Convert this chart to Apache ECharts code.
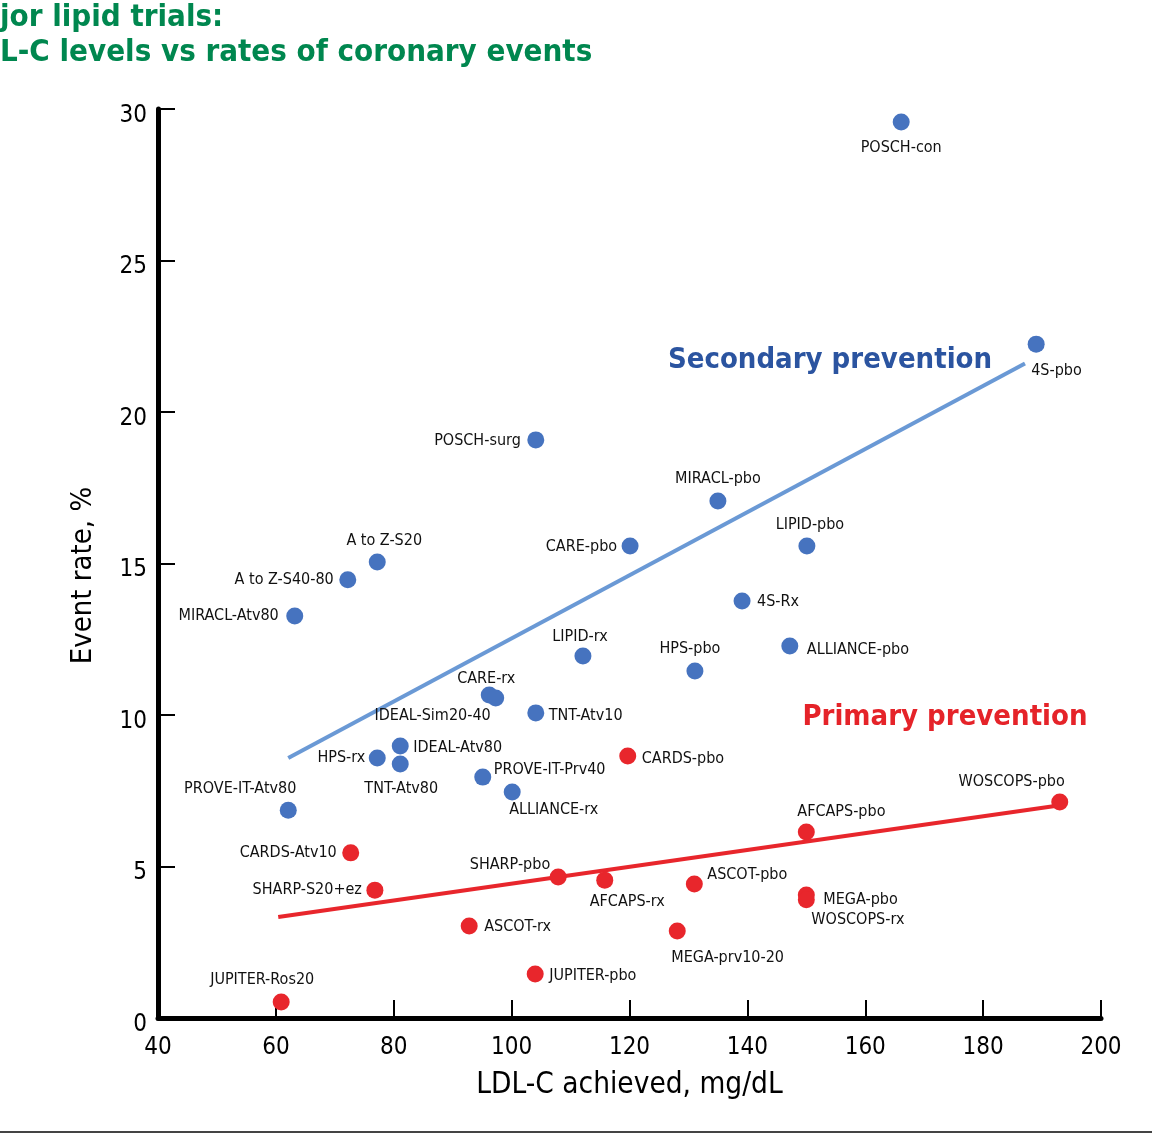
<!DOCTYPE html>
<html>
<head>
<meta charset="utf-8">
<script src="https://cdn.jsdelivr.net/npm/echarts@6/dist/echarts.min.js"></script>
<style>
  html, body { margin: 0; padding: 0; background: #fff; }
  #chart { width: 1152px; height: 1134px; }
</style>
</head>
<body>
<div id="chart"></div>
<script>
// secondary prevention trials (blue)
const secNames = ['POSCH-con', '4S-pbo', 'POSCH-surg', 'MIRACL-pbo', 'CARE-pbo', 'LIPID-pbo',
  'A to Z-S20', 'A to Z-S40-80', 'MIRACL-Atv80', '4S-Rx', 'ALLIANCE-pbo', 'LIPID-rx', 'HPS-pbo',
  'CARE-rx', 'IDEAL-Sim20-40', 'TNT-Atv10', 'IDEAL-Atv80', 'HPS-rx', 'TNT-Atv80',
  'PROVE-IT-Prv40', 'ALLIANCE-rx', 'PROVE-IT-Atv80'];
const secLdl = [166.1, 189, 104.1, 135, 120.1, 150.1, 77.2, 72.2, 63.2, 139.1, 147.2, 112.1, 131.1,
  96.2, 97.3, 104.1, 81.1, 77.2, 81.1, 95.1, 100.1, 62.1];
const secRate = [29.57, 22.24, 19.08, 17.06, 15.58, 15.58, 15.05, 14.46, 13.27, 13.76, 12.28, 11.95, 11.45,
  10.66, 10.56, 10.07, 8.98, 8.58, 8.38, 7.95, 7.46, 6.86];

// primary prevention trials (red)
const priNames = ['WOSCOPS-pbo', 'CARDS-pbo', 'AFCAPS-pbo', 'CARDS-Atv10', 'SHARP-pbo', 'AFCAPS-rx',
  'ASCOT-pbo', 'SHARP-S20+ez', 'MEGA-pbo', 'WOSCOPS-rx', 'ASCOT-rx', 'MEGA-prv10-20',
  'JUPITER-pbo', 'JUPITER-Ros20'];
const priLdl = [193, 119.7, 150, 72.7, 107.9, 115.8, 131, 76.8, 150, 150, 92.8, 128.1, 104, 60.9];
const priRate = [7.13, 8.65, 6.14, 5.45, 4.65, 4.55, 4.42, 4.22, 4.06, 3.9, 3.04, 2.87, 1.45, 0.53];

// regression lines (end points)
const secFitX = [62.1, 187.1];
const secFitY = [8.58, 21.6];
const priFitX = [60.4, 193.4];
const priFitY = [3.33, 7.03];

const xTicks = [40, 60, 80, 100, 120, 140, 160, 180, 200];
const yTicks = [0, 5, 10, 15, 20, 25, 30];

// label placement: [dx, dy, align] from dot centre
const labelPlace = {
  'POSCH-con': [0, 26, 'center'], '4S-pbo': [-5, 27, 'left'], 'POSCH-surg': [-15, 1, 'right'],
  'MIRACL-pbo': [0, -22, 'center'], 'CARE-pbo': [-13, 1, 'right'], 'LIPID-pbo': [3, -21, 'center'],
  'A to Z-S20': [7, -21, 'center'], 'A to Z-S40-80': [-14, 0, 'right'], 'MIRACL-Atv80': [-16, 0, 'right'],
  '4S-Rx': [15, 1, 'left'], 'ALLIANCE-pbo': [17, 4, 'left'], 'LIPID-rx': [-3, -19, 'center'],
  'HPS-pbo': [-5, -22, 'center'], 'CARE-rx': [-3, -16, 'center'], 'IDEAL-Sim20-40': [-5, 18, 'right'],
  'TNT-Atv10': [13, 3, 'left'], 'IDEAL-Atv80': [13, 2, 'left'], 'HPS-rx': [-12, 0, 'right'],
  'TNT-Atv80': [1, 25, 'center'], 'PROVE-IT-Prv40': [11, -7, 'left'], 'ALLIANCE-rx': [-3, 18, 'left'],
  'PROVE-IT-Atv80': [-48, -21, 'center'],
  'WOSCOPS-pbo': [5, -20, 'right'], 'CARDS-pbo': [14, 3, 'left'], 'AFCAPS-pbo': [-9, -20, 'left'],
  'CARDS-Atv10': [-14, 0, 'right'], 'SHARP-pbo': [-8, -12, 'right'], 'AFCAPS-rx': [-15, 22, 'left'],
  'ASCOT-pbo': [13, -9, 'left'], 'SHARP-S20+ez': [-13, 0, 'right'], 'MEGA-pbo': [17, 5, 'left'],
  'WOSCOPS-rx': [5, 20, 'left'], 'ASCOT-rx': [15, 1, 'left'], 'MEGA-prv10-20': [-6, 27, 'left'],
  'JUPITER-pbo': [14, 2, 'left'], 'JUPITER-Ros20': [-19, -22, 'center']
};

const FONT = '"DejaVu Sans Condensed", "Liberation Sans", sans-serif';
const LABEL_FONT = '"DejaVu Sans Condensed", "Liberation Sans", sans-serif';

function points(names, xs, ys) {
  return names.map(function (n, i) {
    const p = labelPlace[n] || [0, -20, 'center'];
    return {
      name: n,
      value: [xs[i], ys[i]],
      label: { offset: [p[0], p[1]], align: p[2] }
    };
  });
}

function measure(text, font) {
  const c = document.createElement('canvas').getContext('2d');
  c.font = font;
  return c.measureText(text).width;
}

const titleFont = 'bold 31px ' + FONT;

const myChart = echarts.init(document.getElementById('chart'), null, { renderer: 'canvas' });

const option = {
  backgroundColor: '#fff',
  animation: false,
  grid: { left: 158, right: 51, top: 109, bottom: 116, containLabel: false },
  xAxis: {
    type: 'value', min: 40, max: 200, interval: 20,
    name: 'LDL-C achieved, mg/dL', nameLocation: 'middle', nameGap: 52,
    nameTextStyle: { fontFamily: FONT, fontSize: 29.5, color: '#000' },
    axisLine: { lineStyle: { color: '#000', width: 5 } },
    axisTick: { inside: true, length: 18, lineStyle: { color: '#000', width: 2 } },
    axisLabel: { margin: 18, fontFamily: FONT, fontSize: 24, color: '#000',
      formatter: function (v) { return xTicks.indexOf(v) >= 0 ? String(v) : ''; } },
    splitLine: { show: false }
  },
  yAxis: {
    type: 'value', min: 0, max: 30, interval: 5,
    name: 'Event rate, %', nameLocation: 'middle', nameGap: 60,
    nameTextStyle: { fontFamily: FONT, fontSize: 29, color: '#000', padding: [0, 24, 0, 0] },
    axisLine: { lineStyle: { color: '#000', width: 5 } },
    axisTick: { inside: true, length: 17, lineStyle: { color: '#000', width: 2 } },
    axisLabel: { margin: 11, fontFamily: FONT, fontSize: 24, color: '#000',
      formatter: function (v) { return yTicks.indexOf(v) >= 0 ? '{t|' + v + '}' : ''; },
      rich: { t: { fontFamily: FONT, fontSize: 24, color: '#000', padding: [13, 0, 0, 0] } } },
    splitLine: { show: false }
  },
  series: [
    {
      name: 'Secondary fit', type: 'line', symbol: 'none', silent: true, z: 1,
      data: secFitX.map(function (x, i) { return [x, secFitY[i]]; }),
      lineStyle: { color: '#6A99D5', width: 4 }
    },
    {
      name: 'Primary fit', type: 'line', symbol: 'none', silent: true, z: 1,
      data: priFitX.map(function (x, i) { return [x, priFitY[i]]; }),
      lineStyle: { color: '#E8262C', width: 4 }
    },
    {
      name: 'Secondary', type: 'scatter', symbolSize: 17, z: 3,
      itemStyle: { color: '#4673BF', opacity: 1 },
      label: { show: true, position: 'inside', formatter: '{b}', verticalAlign: 'middle',
        fontFamily: LABEL_FONT, fontSize: 16, color: '#111' },
      data: points(secNames, secLdl, secRate)
    },
    {
      name: 'Primary', type: 'scatter', symbolSize: 17, z: 3,
      itemStyle: { color: '#E8262C', opacity: 1 },
      label: { show: true, position: 'inside', formatter: '{b}', verticalAlign: 'middle',
        fontFamily: LABEL_FONT, fontSize: 16, color: '#111' },
      data: points(priNames, priLdl, priRate)
    }
  ],
  graphic: [
    { type: 'text', x: -measure('Ma', titleFont), y: 33, style: { text: 'Major lipid trials:',
      font: titleFont, fill: '#00874F', verticalAlign: 'bottom' } },
    { type: 'text', x: -measure('LD', titleFont), y: 68, style: { text: 'LDL-C levels vs rates of coronary events',
      font: titleFont, fill: '#00874F', verticalAlign: 'bottom' } },
    { type: 'text', x: 830, y: 360, style: { text: 'Secondary prevention',
      font: 'bold 29px ' + FONT, fill: '#2B54A0', align: 'center', verticalAlign: 'middle' } },
    { type: 'text', x: 945, y: 717, style: { text: 'Primary prevention',
      font: 'bold 29px ' + FONT, fill: '#E52329', align: 'center', verticalAlign: 'middle' } },
    { type: 'rect', shape: { x: 0, y: 1131, width: 1152, height: 2 }, style: { fill: '#444' } }
  ]
};

myChart.setOption(option);
</script>
</body>
</html>
